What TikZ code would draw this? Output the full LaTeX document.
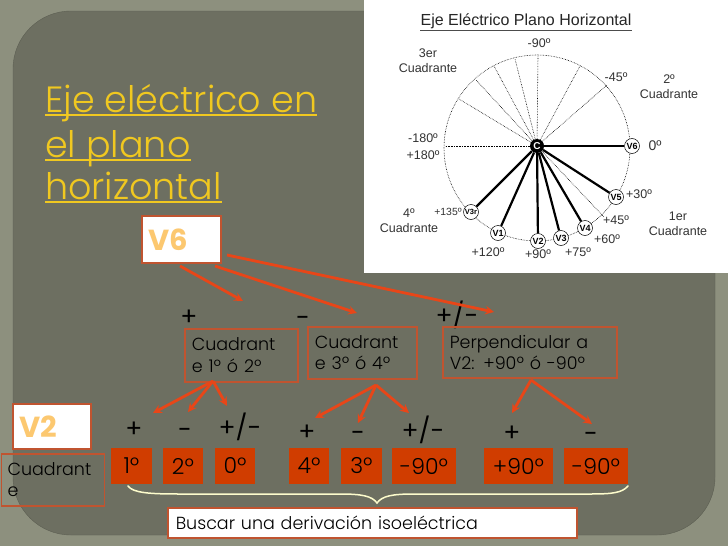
\documentclass[tikz,border=0pt]{standalone}
\usepackage{fontspec}
\usepackage{tikz}
\newfontfamily\gothic{Poppins Light}
\newfontfamily\gothicbold{Poppins}
\newfontfamily\arial{Liberation Sans}
\definecolor{outerbg}{RGB}{141,144,126}
\definecolor{panelbg}{RGB}{109,111,97}
\definecolor{panelrim}{RGB}{92,94,82}
\definecolor{titlegold}{RGB}{240,200,32}
\definecolor{redfill}{RGB}{208,61,0}
\definecolor{redline}{RGB}{192,84,48}
\definecolor{arrowred}{RGB}{232,70,24}
\definecolor{softorange}{RGB}{252,200,112}
\definecolor{bracecream}{RGB}{253,252,204}

\begin{document}
\begin{tikzpicture}[x=1pt,y=-1pt,>=stealth,
    titleline/.style={anchor=base west,inner sep=0pt,text=titlegold,font=\gothic\fontsize{36.5}{36.5}\selectfont},
    leadbox/.style={draw=redline,line width=1.6pt,fill=white,anchor=north west,inner sep=0pt,text=softorange,font=\gothicbold\bfseries\fontsize{29}{29}\selectfont,align=left},
    quadbox/.style={draw=redline,line width=1.6pt,anchor=north west,inner xsep=7pt,inner ysep=0pt,align=left,text=black,font=\gothic\fontsize{17.5}{21.5}\selectfont},
    redbox/.style={fill=redfill,text=black,inner sep=0pt,minimum height=36pt,font=\gothic\fontsize{22}{22}\selectfont},
    signlabel/.style={inner sep=0pt,text height=16pt,text depth=0pt,text=black,font=\gothicbold\fontsize{25}{25}\selectfont},
    treearrow/.style={->,draw=arrowred,line width=2.8pt},
    vnode/.style={circle,draw=black,fill=white,line width=.5pt,inner sep=0pt,minimum size=15pt,font=\arial\bfseries\fontsize{9}{9}\selectfont},
    polartext/.style={inner sep=0pt,align=center,text=black!80,font=\arial\fontsize{12.5}{15}\selectfont},
    spoke/.style={line width=2.2pt,draw=black},
    dotspoke/.style={densely dotted,line width=.6pt,draw=black}]

  % slide background
  \fill[outerbg] (0,0) rectangle (728,546);
  \draw[panelrim,fill=panelbg,rounded corners=58pt] (13,11) rectangle (715,535);
  \fill[white] (364,0) rectangle (728,273);

  % title
  \node[titleline] (titleA) at (45,112) {Eje eléctrico en};
  \node[titleline] (titleB) at (45,157) {el plano};
  \node[titleline] (titleC) at (45,199) {horizontal};
  \draw[titlegold,line width=1.6pt] ([yshift=-3pt]titleA.base west) -- ([yshift=-3pt]titleA.base east);
  \draw[titlegold,line width=1.6pt] ([yshift=-3pt]titleB.base west) -- ([yshift=-3pt]titleB.base east);
  \draw[titlegold,line width=1.6pt] ([yshift=-3pt]titleC.base west) -- ([yshift=-3pt]titleC.base east);

  % polar chart
  \coordinate (circleC) at (537,148);
  \draw[dotspoke] (circleC) circle (93pt);
  \node[circle,fill=black,text=white,inner sep=0pt,minimum size=14pt,font=\arial\bfseries\fontsize{10}{10}\selectfont] (C) at (537,146) {C};
  \node[vnode] (V6) at (632,146) {V6};
  \node[vnode] (V5) at (616,197) {V5};
  \node[vnode] (V4) at (585,228) {V4};
  \node[vnode] (V3) at (561,238) {V3};
  \node[vnode] (V2) at (538,241) {V2};
  \node[vnode] (V1) at (498,233) {V1};
  \node[vnode,font=\arial\bfseries\fontsize{7.5}{7.5}\selectfont] (V3r) at (471,212) {V3r};
  \foreach \vname in {V6,V5,V4,V3,V2,V1,V3r}
    \draw[spoke] (C) -- (\vname);
  \foreach \rname/\rx/\ry in {a/538/56,b/515/59,c/494/66,d/476/80,e/459/99,f/580/66,g/607/85,h/445/146,i/604/217} {
    \coordinate (rim\rname) at (\rx,\ry);
    \draw[dotspoke] (C) -- (rim\rname);
  }

  \node[inner sep=0pt,text=black!85,font=\arial\fontsize{16}{16}\selectfont] (chartTitle) at (526,21) {Eje Eléctrico Plano Horizontal};
  \draw[black!70,line width=.7pt] ([yshift=-1.5pt]chartTitle.south west) -- ([yshift=-1.5pt]chartTitle.south east);
  \node[polartext] (lmA) at (539,43) {-90º};
  \node[polartext] (lmB) at (428,61) {3er\\Cuadrante};
  \node[polartext] (lmC) at (616,77) {-45º};
  \node[polartext] (lmD) at (669,87) {2º\\Cuadrante};
  \node[polartext] (lmE) at (423,138) {-180º};
  \node[polartext] (lmF) at (423,155) {+180º};
  \node[polartext,font=\arial\fontsize{14}{14}\selectfont] (lmG) at (655,146) {0º};
  \node[polartext] (lmH) at (639,194) {+30º};
  \node[polartext] (lmI) at (616,220) {+45º};
  \node[polartext] (lmJ) at (678,224) {1er\\Cuadrante};
  \node[polartext] (lmK) at (607,239) {+60º};
  \node[polartext] (lmL) at (578,252) {+75º};
  \node[polartext] (lmM) at (538,254) {+90º};
  \node[polartext] (lmN) at (488,252) {+120º};
  \node[polartext,font=\arial\fontsize{10.4}{10.4}\selectfont] (lmO) at (448,212) {+135º};
  \node[polartext] (lmP) at (409,221) {4º\\Cuadrante};

  % lead boxes
  \node[leadbox,minimum width=79pt,minimum height=47pt,inner xsep=7pt,text width=65pt] (leadV6) at (141,215) {V6};
  \node[leadbox,minimum width=78pt,minimum height=45pt,inner xsep=7pt,text width=64pt] (leadV2) at (12,403) {V2};

  % upper row
  \node[signlabel] (sgnA) at (189,317) {+};
  \node[signlabel] (sgnB) at (303,318) {-};
  \node[signlabel] (sgnC) at (457,316) {+/-};
  \node[quadbox,minimum width=113pt,minimum height=53pt,text width=99pt] (quadA) at (184,328) {Cuadrant\\e 1º ó 2º};
  \node[quadbox,minimum width=109pt,minimum height=52pt,text width=95pt] (quadB) at (307,326) {Cuadrant\\e 3º ó 4º};
  \node[quadbox,minimum width=174pt,minimum height=51pt,text width=160pt] (quadC) at (442,326) {Perpendicular a\\V2: +90º ó -90º};
  \node[quadbox,minimum width=103pt,minimum height=52pt,inner xsep=6pt,text width=91pt] (quadD) at (.8,453) {Cuadrant\\e};

  % lower row
  \node[signlabel] (sgnD) at (134,429) {+};
  \node[signlabel] (sgnE) at (185,430) {-};
  \node[signlabel] (sgnF) at (240,428) {+/-};
  \node[signlabel] (sgnG) at (307,432) {+};
  \node[signlabel] (sgnH) at (358,433) {-};
  \node[signlabel] (sgnI) at (423,431) {+/-};
  \node[signlabel] (sgnJ) at (512,433) {+};
  \node[signlabel] (sgnK) at (591,434) {-};
  \node[redbox,minimum width=41pt] (redA) at (131.5,466) {1º};
  \node[redbox,minimum width=40pt] (redB) at (183,466) {2º};
  \node[redbox,minimum width=40pt] (redC) at (235,466) {0º};
  \node[redbox,minimum width=40pt] (redD) at (309,466) {4º};
  \node[redbox,minimum width=41pt] (redE) at (361.5,466) {3º};
  \node[redbox,minimum width=64pt] (redF) at (424,466) {-90º};
  \node[redbox,minimum width=69pt] (redG) at (518.5,466) {+90º};
  \node[redbox,minimum width=64pt] (redH) at (596,466) {-90º};

  % arrows
  \coordinate (fromV6a) at (180,266);
  \coordinate (fromV6b) at (215,266);
  \coordinate (fromV6c) at (227,255);
  \coordinate (toA) at (243,301);
  \coordinate (toB) at (357,313);
  \coordinate (toC) at (494,312);
  \draw[treearrow] (fromV6a) -- (toA);
  \draw[treearrow] (fromV6b) -- (toB);
  \draw[treearrow] (fromV6c) -- (toC);
  \coordinate (rootA) at (213,381);
  \coordinate (rootB) at (376,385);
  \coordinate (rootC) at (531,380);
  \foreach \tname/\tx/\ty/\troot in {a/153/413/rootA,b/188/412/rootA,c/227/406/rootA,d/315/418/rootB,e/358/423/rootB,f/409/413/rootB,g/512/413/rootC,h/592/424/rootC} {
    \coordinate (tip\tname) at (\tx,\ty);
    \draw[treearrow] (\troot) -- (tip\tname);
  }

  % brace and note
  \coordinate (braceL) at (128,486);
  \coordinate (braceM) at (377,503);
  \coordinate (braceR) at (628,486);
  \draw[bracecream,line width=1.5pt,line cap=round] (braceL) .. controls (133,493) and (150,494) .. (180,494) -- (340,494) .. controls (362,494) and (372,496) .. (braceM) .. controls (382,496) and (392,494) .. (414,494) -- (590,494) .. controls (612,494) and (622,493) .. (braceR);
  \node[draw=redline,line width=1.6pt,fill=white,anchor=north west,inner xsep=8pt,inner ysep=0pt,minimum width=409pt,minimum height=30pt,text width=393pt,align=left,text=black,font=\gothic\fontsize{17.5}{17.5}\selectfont] (note) at (167,507) {Buscar una derivación isoeléctrica};

  \useasboundingbox (0,0) rectangle (728,546);
\end{tikzpicture}
\end{document}
